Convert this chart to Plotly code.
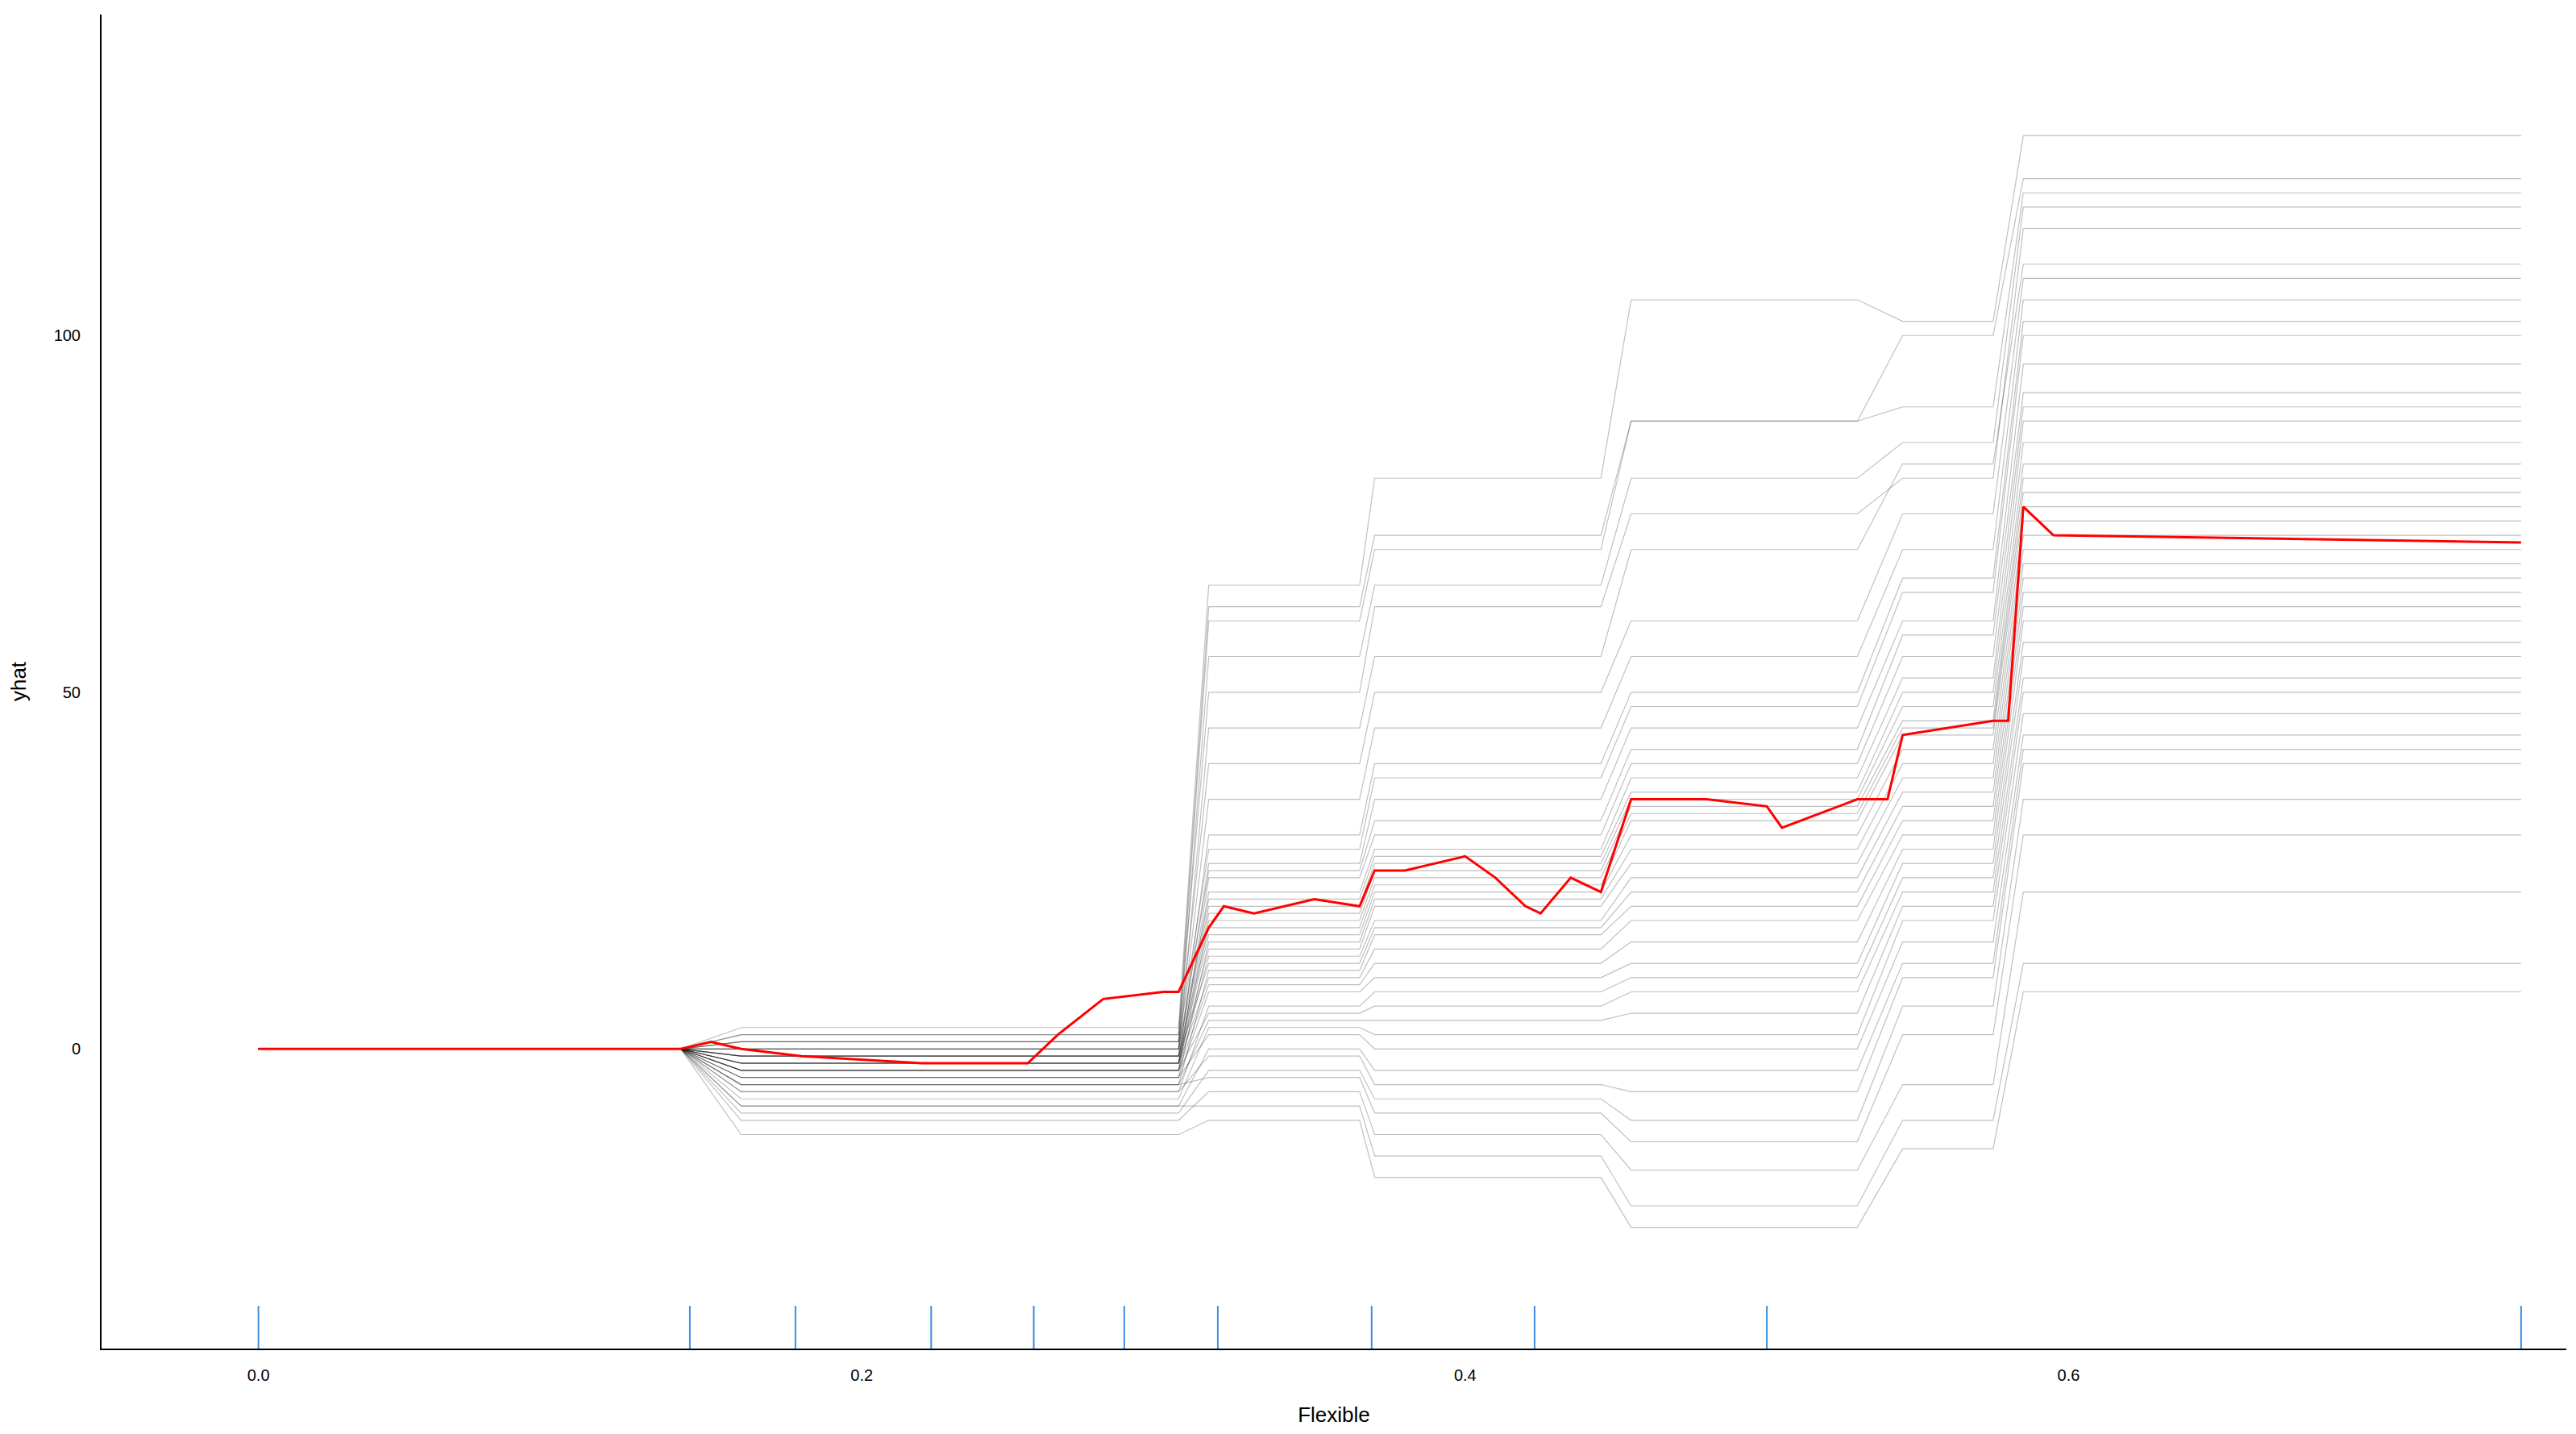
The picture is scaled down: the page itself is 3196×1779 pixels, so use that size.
import plotly.graph_objects as go

# ICE curve levels per segment: (0.16-0.255, 0.32-0.365, 0.37-0.445, 0.455-0.53, 0.545-0.575, 0.585-0.75)
ice_levels = [
    (3, 65, 80, 105, 102, 128), (2, 62, 72, 88, 100, 122), (1, 60, 70, 88, 90, 120),
    (0, 55, 65, 80, 85, 118), (2, 50, 62, 75, 80, 115), (-1, 45, 55, 70, 82, 110),
    (1, 40, 50, 60, 75, 108), (0, 35, 45, 55, 70, 105), (-2, 30, 40, 50, 66, 102),
    (1, 28, 38, 48, 64, 100), (-1, 26, 35, 45, 60, 96), (0, 25, 32, 42, 58, 92),
    (-3, 24, 30, 40, 55, 90), (-2, 22, 28, 38, 52, 88), (0, 21, 27, 36, 50, 85),
    (-1, 20, 26, 35, 48, 82), (-2, 19, 25, 34, 46, 80), (-3, 18, 24, 33, 45, 78),
    (-1, 17, 23, 32, 44, 76), (-2, 16, 22, 30, 42, 74), (-4, 15, 21, 28, 40, 72),
    (-2, 14, 20, 26, 38, 70), (-3, 13, 18, 24, 36, 68), (-1, 12, 17, 22, 34, 66),
    (-5, 11, 16, 20, 32, 64), (-2, 10, 14, 18, 30, 62), (-3, 9, 12, 15, 28, 60),
    (-4, 8, 10, 12, 26, 57), (-6, 6, 8, 10, 24, 55), (-3, 5, 6, 8, 22, 52),
    (-5, 4, 4, 5, 20, 50), (-7, 3, 2, 2, 18, 47), (-4, 2, 0, 0, 15, 44),
    (-8, 0, -3, -3, 12, 42), (-6, -1, -5, -6, 10, 40), (-9, -3, -7, -10, 6, 35),
    (-5, -4, -9, -13, 2, 30), (-10, -6, -12, -17, -5, 22), (-8, -8, -15, -22, -10, 12),
    (-12, -10, -18, -25, -14, 8),
]
seg_x = [0, 0.14, 0.16, 0.255, 0.305, 0.315, 0.365, 0.37, 0.445, 0.455, 0.53, 0.545, 0.575, 0.585, 0.75]

mean_x = [0, 0.14, 0.15, 0.16, 0.18, 0.22, 0.255, 0.265, 0.28, 0.30, 0.305, 0.315, 0.32, 0.33, 0.35,
          0.365, 0.37, 0.38, 0.40, 0.41, 0.42, 0.425, 0.435, 0.445, 0.455, 0.48, 0.50, 0.505, 0.53,
          0.54, 0.545, 0.575, 0.58, 0.585, 0.595, 0.75]
mean_y = [0, 0, 1, 0, -1, -2, -2, 2, 7, 8, 8, 17, 20, 19, 21, 20, 25, 25, 27, 24, 20, 19, 24, 22,
          35, 35, 34, 31, 35, 35, 44, 46, 46, 76, 72, 71]

rug_x = [0, 0.143, 0.178, 0.223, 0.257, 0.287, 0.318, 0.369, 0.423, 0.5, 0.75]

fig = go.Figure()
for a, b, c, d, e, f in ice_levels:
    ys = [0, 0, a, a, a, b, b, c, c, d, d, e, e, f, f]
    fig.add_trace(go.Scatter(x=seg_x, y=ys, mode="lines",
                             line=dict(color="rgba(0,0,0,0.25)", width=1.2),
                             hoverinfo="skip", showlegend=False))
fig.add_trace(go.Scatter(x=mean_x, y=mean_y, mode="lines",
                         line=dict(color="red", width=3), showlegend=False))
fig.add_trace(go.Scatter(x=rug_x, y=[-39.5] * len(rug_x), mode="markers",
                         marker=dict(symbol="line-ns", size=44,
                                     line=dict(color="#3c8de0", width=2)),
                         showlegend=False))

fig.update_layout(
    width=3196, height=1779, plot_bgcolor="white", paper_bgcolor="white",
    margin=dict(l=116, r=20, t=10, b=114),
    font=dict(family="Liberation Sans, Arial", size=20, color="black"),
    xaxis=dict(range=[-0.052, 0.765], tickvals=[0, 0.2, 0.4, 0.6],
               ticktext=["0.0", "0.2", "0.4", "0.6"], showgrid=False, zeroline=False,
               showline=True, linecolor="black", linewidth=2, ticks="",
               ticklabelstandoff=14,
               title=dict(text="Flexible", font=dict(size=26), standoff=30),
               tickfont=dict(size=20)),
    yaxis=dict(range=[-42, 145], tickvals=[0, 50, 100], showgrid=False, zeroline=False,
               showline=True, linecolor="black", linewidth=2, ticks="",
               ticklabelstandoff=20,
               title=dict(text="yhat", font=dict(size=26), standoff=30),
               tickfont=dict(size=20)),
)
fig.write_html("out.html")
